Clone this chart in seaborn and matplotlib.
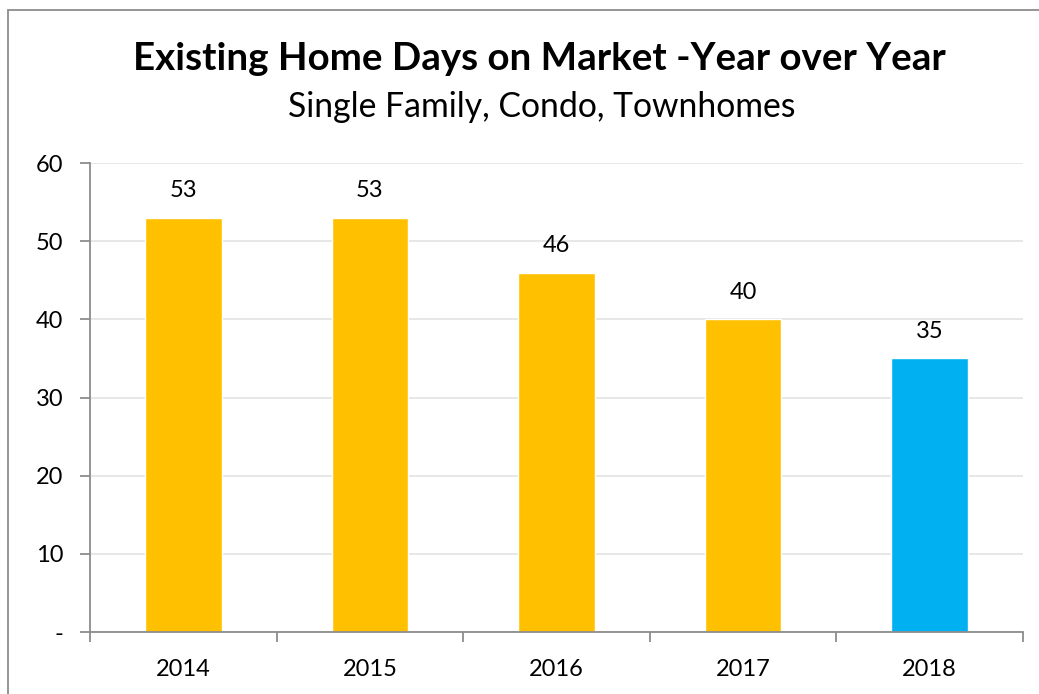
import pandas as pd
import matplotlib.pyplot as plt
import matplotlib.patches as mpatches
import seaborn as sns

# chart data
years = ['2014', '2015', '2016', '2017', '2018']
days_on_market = [53, 53, 46, 40, 35]
bar_colors = ['#FFC000', '#FFC000', '#FFC000', '#FFC000', '#00B0F0']
y_ticks = [0, 10, 20, 30, 40, 50, 60]
y_tick_labels = ['-', '10', '20', '30', '40', '50', '60']

df = pd.DataFrame({'year': years, 'days': days_on_market})

sns.set_style('white')
plt.rcParams['font.family'] = ['Lato', 'DejaVu Sans']
plt.rcParams['text.color'] = 'black'
plt.rcParams['xtick.color'] = 'black'
plt.rcParams['ytick.color'] = 'black'

fig = plt.figure(figsize=(10.39, 6.94), dpi=100)
ax = fig.add_axes([0.0866, 0.0893, 0.898, 0.6757])

sns.barplot(data=df, x='year', y='days', hue='year', palette=bar_colors,
            width=0.41, legend=False, saturation=1, ax=ax)

for i, v in enumerate(days_on_market):
    ax.text(i, v + 2.1, str(v), ha='center', va='bottom', fontsize=17, color='black')

ax.set_xlim(-0.5, 4.5)
ax.set_ylim(0, 60)
ax.set_yticks(y_ticks)
ax.set_yticklabels(y_tick_labels)
ax.yaxis.grid(True, color='#e3e3e3', linewidth=1.2)
ax.set_axisbelow(True)
ax.set_xlabel('')
ax.set_ylabel('')

for s in ['top', 'right']:
    ax.spines[s].set_visible(False)
for s in ['left', 'bottom']:
    ax.spines[s].set_color('#8c8c8c')
    ax.spines[s].set_linewidth(1.3)

# category boundary ticks on x axis
ax.set_xticks([-0.5, 0.5, 1.5, 2.5, 3.5, 4.5], minor=True)
ax.tick_params(axis='x', which='major', bottom=False, labelsize=17, pad=16)
ax.tick_params(axis='x', which='minor', bottom=True, length=7, width=1.3,
               color='#8c8c8c', direction='out')
ax.tick_params(axis='y', left=True, length=7, width=1.3, color='#8c8c8c',
               labelcolor='black', direction='out', labelsize=17, pad=12)

fig.text(0.519, 1 - 70 / 694, 'Existing Home Days on Market -Year over Year',
         ha='center', va='baseline', fontsize=27.7, fontweight='bold')
fig.text(0.521, 1 - 117 / 694, 'Single Family, Condo, Townhomes',
         ha='center', va='baseline', fontsize=24.3)

# outer chart border (only left and top visible)
border = mpatches.Rectangle((8 / 1039, -0.1), 1.2, 1.1 - 10 / 694,
                            transform=fig.transFigure, fill=False,
                            edgecolor='#8c8c8c', linewidth=1.3, clip_on=False)
fig.patches.append(border)

fig.savefig('out.png', dpi=100)
